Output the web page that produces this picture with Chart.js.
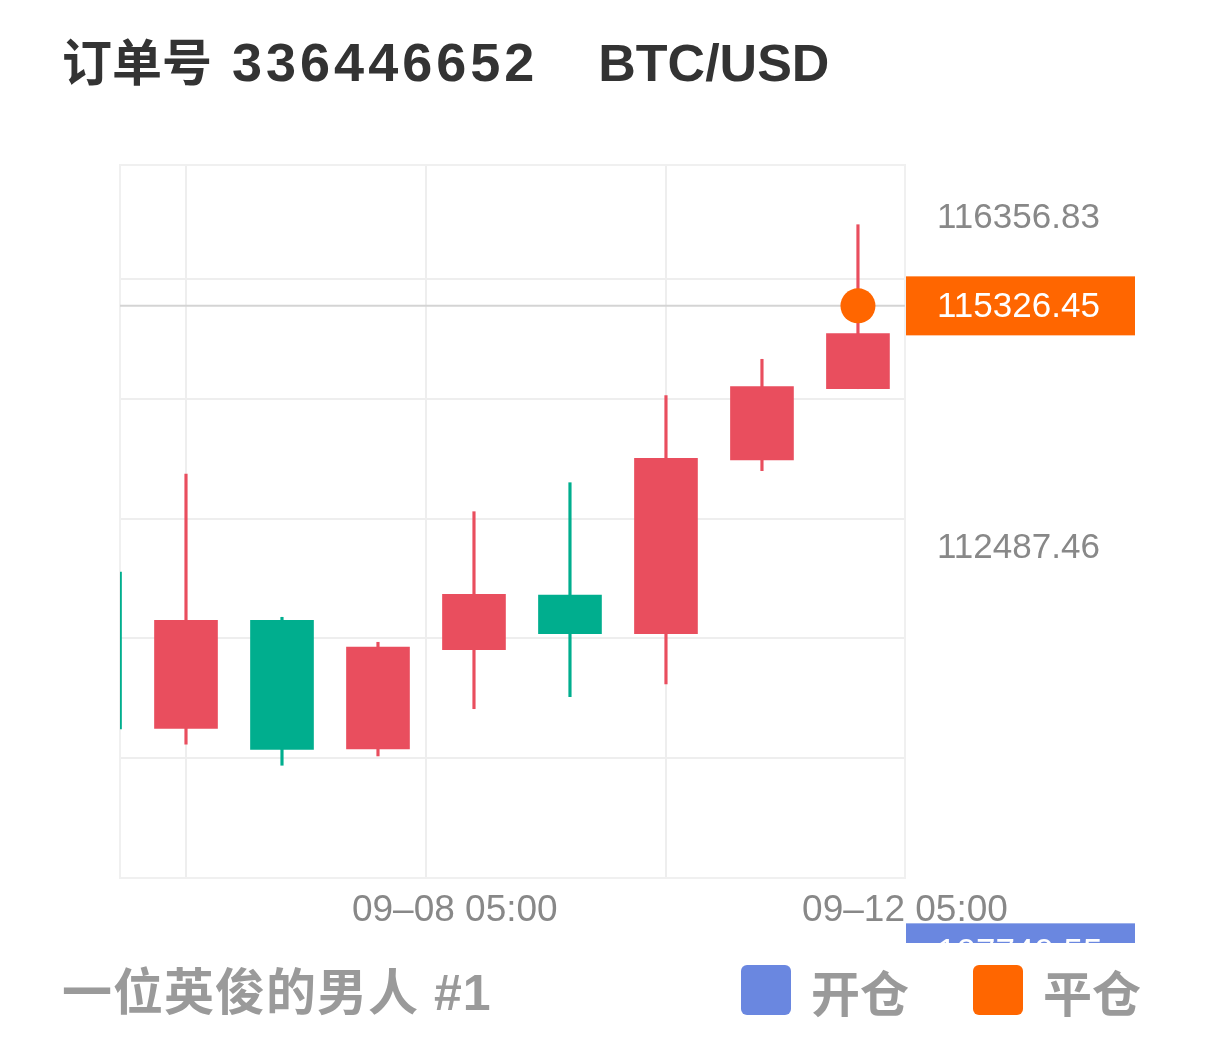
<!DOCTYPE html>
<html>
<head>
<meta charset="utf-8">
<script src="https://cdn.jsdelivr.net/npm/chart.js@4/dist/chart.umd.min.js"></script>
<style>
  body { margin: 0; background: #fff; width: 1206px; height: 1050px; position: relative; overflow: hidden;
         font-family: "Liberation Sans", "Noto Sans CJK SC", sans-serif; }
  .title { position: absolute; left: 62px; top: 32px; line-height: 60px; font-size: 50px; font-weight: bold; color: #333; white-space: nowrap; }
  .title .num { font-size: 54px; letter-spacing: 4px; margin-left: 20px; }
  .title .pair { font-size: 52px; margin-left: 60px; }
  #chart { position: absolute; left: 0; top: 140px; }
  .footer { position: absolute; left: 62px; top: 963px; line-height: 60px; font-size: 50px; letter-spacing: 1px; font-weight: bold; color: #9a9a9a; white-space: nowrap; }
  .legend { position: absolute; top: 965px; height: 50px; display: flex; align-items: center; font-size: 49px; font-weight: bold; color: #9a9a9a; }
  .legend .box { width: 50px; height: 50px; border-radius: 6px; margin-right: 20px; }
</style>
</head>
<body>
<div class="title">订单号<span class="num">336446652</span><span class="pair">BTC/USD</span></div>
<canvas id="chart" width="1206" height="803"></canvas>
<div class="footer">一位英俊的男人 #1</div>
<div class="legend" style="left:741px"><div class="box" style="background:#6a87e0"></div>开仓</div>
<div class="legend" style="left:973px"><div class="box" style="background:#ff6600"></div>平仓</div>
<script>
// candle data (index -1 is cut off at the left edge)
const candleIndex = [-1, 0, 1, 2, 3, 4, 5, 6, 7];
const opens  = [112206, 110373, 111640, 110131, 111295, 111936, 111482, 113519, 114355];
const closes = [110365, 111640, 110127, 111327, 111944, 111482, 113539, 114379, 115000];
const highs  = [112347, 113355, 111675, 111382, 112913, 113253, 114273, 114700, 116278];
const lows   = [110236, 110186, 109940, 110049, 110603, 110744, 110893, 113394, 114355];

const closePrice = 115326.45;   // 平仓
const openPrice = 107740.55;    // 开仓
const closeIndex = 7;

const priceLabels = [116356.83, 112487.46];
const timeLabels = ['09–08 05:00', '09–12 05:00'];
const timeLabelPos = [2.8, 7.49];
const gridXPos = [0, 2.5, 5];
const gridYPos = [108618.09, 110022.59, 111427.09, 112831.59, 114236.09, 115640.59];

const yMin = 108618.09, yMax = 116978;
const xMin = -0.6875, xMax = 7.49;

const UP = '#e94e5e', DOWN = '#00ae8e', ORANGE = '#ff6600', BLUE = '#6a87e0';

const bodies = candleIndex.map((x, i) => ({ x, y: [opens[i], closes[i]] }));
const wicks = candleIndex.map((x, i) => ({ x, y: [lows[i], highs[i]] }));
const candleColor = ctx => {
    const i = ctx.dataIndex;
    return closes[i] >= opens[i] ? UP : DOWN;
};

// frame, current price line and the price tags on the right
const pricePlugin = {
    id: 'priceTags',
    beforeDatasetsDraw(chart) {
        const { ctx, chartArea: a, scales } = chart;
        ctx.save();
        ctx.strokeStyle = '#f0f0f0';
        ctx.lineWidth = 2;
        ctx.strokeRect(a.left, a.top, a.right - a.left, a.bottom - a.top);
        const y = scales.y.getPixelForValue(closePrice);
        ctx.strokeStyle = '#d4d4d4';
        ctx.beginPath();
        ctx.moveTo(a.left, y);
        ctx.lineTo(a.right, y);
        ctx.stroke();
        ctx.restore();
    },
    afterDraw(chart) {
        const { ctx, chartArea: a, scales } = chart;
        ctx.save();
        ctx.font = '35px "Liberation Sans", sans-serif';
        ctx.textBaseline = 'middle';
        [[closePrice, ORANGE], [openPrice, BLUE]].forEach(([v, color]) => {
            const y = scales.y.getPixelForValue(v);
            ctx.fillStyle = color;
            ctx.fillRect(a.right + 1, y - 29.5, 229, 59);
            ctx.fillStyle = '#fff';
            ctx.fillText(v.toFixed(2), a.right + 32, y + 1);
        });
        ctx.restore();
    }
};

const noPadY = s => { s.paddingTop = 0; s.paddingBottom = 0; };
const noPadX = s => { s.paddingLeft = 0; s.paddingRight = 0; };

new Chart(document.getElementById('chart'), {
    type: 'bar',
    data: {
        datasets: [
            {
                type: 'scatter',
                data: [{ x: closeIndex, y: closePrice }],
                backgroundColor: ORANGE,
                borderWidth: 0,
                pointRadius: 17.5,
                order: 0
            },
            {
                data: bodies,
                backgroundColor: candleColor,
                barThickness: 63,
                grouped: false,
                order: 1
            },
            {
                data: wicks,
                backgroundColor: candleColor,
                barThickness: 2.5,
                grouped: false,
                order: 2
            }
        ]
    },
    options: {
        responsive: false,
        animation: false,
        events: [],
        layout: { padding: { left: 120, top: 25, right: 0, bottom: 0 } },
        plugins: { legend: { display: false }, tooltip: { enabled: false } },
        scales: {
            x: {
                type: 'linear', position: 'bottom', min: xMin, max: xMax, offset: false,
                grid: { color: '#eeeeee', lineWidth: 2, drawTicks: false, offset: false },
                border: { display: false },
                ticks: { display: false },
                afterBuildTicks: s => { s.ticks = gridXPos.map(value => ({ value })); },
                afterFit: s => { s.height = 0; noPadX(s); }
            },
            xTime: {
                type: 'linear', position: 'bottom', min: xMin, max: xMax, offset: false,
                grid: { display: false, drawTicks: false },
                border: { display: false },
                ticks: {
                    font: { family: '"Liberation Sans", sans-serif', size: 37 },
                    color: '#888', padding: 11, autoSkip: false, maxRotation: 0,
                    callback: (v, i) => timeLabels[i]
                },
                afterBuildTicks: s => { s.ticks = timeLabelPos.map(value => ({ value })); },
                afterFit: s => { s.height = 65; noPadX(s); }
            },
            y: {
                type: 'linear', position: 'left', min: yMin, max: yMax,
                grid: { color: '#eeeeee', lineWidth: 2, drawTicks: false },
                border: { display: false },
                ticks: { display: false },
                afterBuildTicks: s => { s.ticks = gridYPos.map(value => ({ value })); },
                afterFit: s => { s.width = 0; noPadY(s); }
            },
            yPrice: {
                type: 'linear', position: 'right', min: yMin, max: yMax,
                grid: { display: false, drawTicks: false },
                border: { display: false },
                ticks: {
                    font: { family: '"Liberation Sans", sans-serif', size: 35 },
                    color: '#888', padding: 32, crossAlign: 'near',
                    callback: v => v.toFixed(2)
                },
                afterBuildTicks: s => { s.ticks = priceLabels.map(value => ({ value })); },
                afterFit: s => { s.width = 301; noPadY(s); }
            }
        }
    },
    plugins: [pricePlugin]
});
</script>
</body>
</html>
